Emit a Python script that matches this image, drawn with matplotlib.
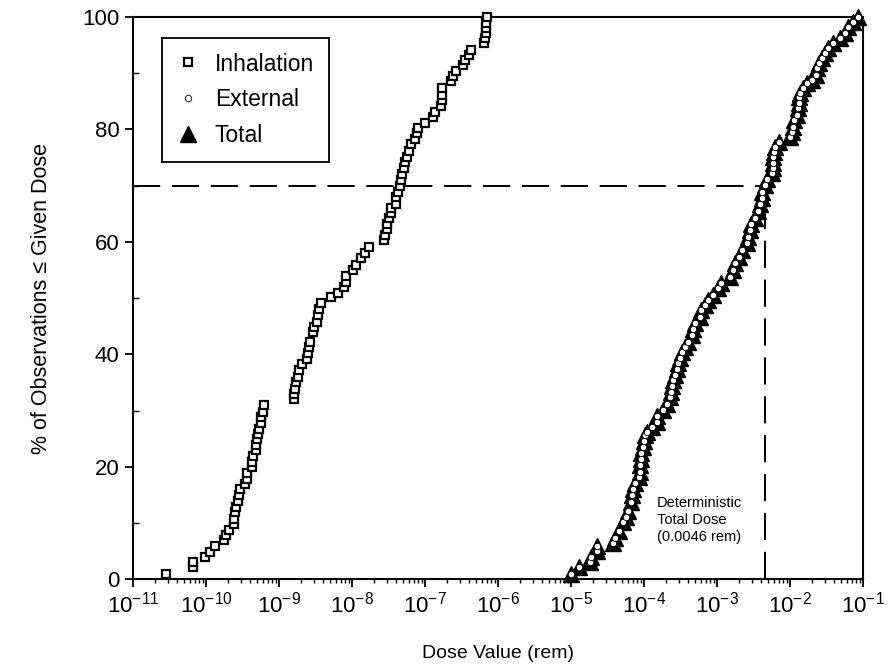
import matplotlib
matplotlib.use("Agg")
import matplotlib.pyplot as plt
import numpy as np
from matplotlib.ticker import LogLocator, FixedLocator, NullFormatter

plt.rcParams['font.family'] = ['Liberation Sans', 'DejaVu Sans']
plt.rcParams['mathtext.default'] = 'regular'
plt.rcParams['axes.unicode_minus'] = False

# dose values, as log10(rem), with cumulative %
inhal_log10 = [-10.55, -10.18, -10.18, -10.01, -9.95, -9.88, -9.75, -9.72, -9.68, -9.62,
               -9.61, -9.60, -9.59, -9.56, -9.55, -9.53, -9.47, -9.44, -9.44, -9.37,
               -9.37, -9.36, -9.32, -9.32, -9.30, -9.28, -9.27, -9.25, -9.24, -9.22,
               -9.21, -8.80, -8.80, -8.78, -8.76, -8.74, -8.72, -8.68, -8.61, -8.60,
               -8.59, -8.58, -8.54, -8.52, -8.48, -8.46, -8.45, -8.43, -8.28, -8.19,
               -8.11, -8.08, -8.08, -7.99, -7.94, -7.88, -7.82, -7.76, -7.56, -7.55,
               -7.52, -7.52, -7.49, -7.47, -7.46, -7.39, -7.39, -7.37, -7.34, -7.33,
               -7.31, -7.29, -7.27, -7.25, -7.22, -7.19, -7.14, -7.11, -7.09, -7.00,
               -6.89, -6.86, -6.78, -6.77, -6.77, -6.76, -6.65, -6.62, -6.57, -6.48,
               -6.45, -6.39, -6.37, -6.19, -6.18, -6.17, -6.16, -6.16, -6.15]
inhal_pct = [0.9, 2.1, 3.1, 3.9, 4.9, 6.0, 6.9, 7.8, 8.8, 9.9,
             10.8, 11.9, 12.9, 13.9, 14.9, 16.0, 16.9, 17.9, 18.9, 20.0,
             20.9, 21.9, 23.0, 23.8, 24.9, 25.8, 26.8, 27.8, 28.9, 29.8,
             31.0, 32.0, 33.0, 33.9, 35.1, 36.0, 37.2, 38.3, 39.1, 40.2,
             41.3, 42.2, 43.9, 44.9, 45.8, 47.0, 48.0, 49.1, 50.2, 50.9,
             52.0, 52.9, 53.9, 55.0, 55.9, 57.1, 58.0, 59.0, 60.3, 61.2,
             62.2, 63.2, 64.2, 65.1, 66.0, 66.8, 68.0, 68.9, 69.9, 71.0,
             72.1, 73.1, 74.1, 75.1, 76.2, 77.4, 78.2, 79.3, 80.2, 81.2,
             82.2, 83.1, 84.2, 85.2, 86.1, 87.3, 88.5, 89.5, 90.3, 91.5,
             92.3, 93.2, 94.1, 95.3, 96.2, 97.1, 98.0, 98.9, 100.0]

ext_log10 = [-5.00, -4.89, -4.74, -4.73, -4.64, -4.64, -4.42, -4.40, -4.34, -4.29,
             -4.25, -4.22, -4.18, -4.16, -4.15, -4.12, -4.07, -4.05, -4.05, -4.04,
             -4.04, -4.01, -4.00, -3.99, -3.96, -3.89, -3.82, -3.82, -3.74, -3.68,
             -3.64, -3.63, -3.62, -3.60, -3.58, -3.55, -3.53, -3.51, -3.48, -3.44,
             -3.40, -3.34, -3.33, -3.30, -3.23, -3.22, -3.16, -3.12, -3.05, -2.99,
             -2.94, -2.82, -2.78, -2.75, -2.70, -2.66, -2.59, -2.58, -2.55, -2.53,
             -2.48, -2.44, -2.41, -2.38, -2.38, -2.34, -2.32, -2.25, -2.23, -2.23,
             -2.23, -2.22, -2.21, -2.15, -2.00, -1.97, -1.96, -1.95, -1.90, -1.89,
             -1.88, -1.88, -1.86, -1.82, -1.77, -1.70, -1.64, -1.63, -1.60, -1.56,
             -1.52, -1.48, -1.41, -1.32, -1.25, -1.21, -1.14, -1.07]
ext_pct = [0.9, 2.1, 3.0, 3.9, 5.0, 6.0, 6.4, 7.3, 8.5, 10.1,
           11.0, 12.1, 13.7, 14.9, 16.0, 17.1, 18.1, 19.0, 20.3, 21.4,
           22.4, 23.5, 24.6, 25.6, 26.2, 27.0, 27.9, 29.0, 30.1, 31.1,
           32.4, 33.3, 34.3, 35.4, 36.3, 37.4, 38.4, 39.3, 40.4, 41.3,
           42.2, 43.4, 44.5, 45.6, 46.6, 47.9, 48.8, 49.6, 50.5, 51.8,
           52.7, 53.7, 55.0, 56.2, 57.3, 58.5, 59.8, 60.9, 62.1, 63.2,
           64.2, 65.5, 66.7, 67.8, 68.9, 70.1, 71.2, 72.2, 73.1, 74.0,
           75.1, 76.0, 76.9, 77.8, 78.6, 79.5, 80.4, 81.7, 82.6, 83.8,
           84.7, 85.8, 86.5, 87.4, 88.3, 88.8, 89.7, 90.9, 91.8, 92.7,
           93.6, 94.5, 95.4, 96.3, 97.2, 98.2, 99.1, 100.0]

# total is inhalation + external, the inhalation part is negligible
total_log10 = ext_log10
total_pct = ext_pct

det_dose = 0.0046
det_pct = 70

fig, ax = plt.subplots(figsize=(8.92, 6.72), dpi=100)
fig.subplots_adjust(left=0.149, right=0.9675, bottom=0.138, top=0.975)

ax.plot(10.0 ** np.array(total_log10), total_pct, ls="None", marker="^",
        markersize=12, color="black", label="Total", zorder=3, clip_on=False)
ax.plot(10.0 ** np.array(ext_log10), ext_pct, ls="None", marker="o",
        markersize=4.6, markerfacecolor="white", markeredgecolor="black",
        markeredgewidth=0.6, label="External", zorder=4, clip_on=False)
ax.plot(10.0 ** np.array(inhal_log10), inhal_pct, ls="None", marker="s",
        markersize=5.5, markerfacecolor="white", markeredgecolor="black",
        markeredgewidth=1.6, label="Inhalation", zorder=4, clip_on=False)

# deterministic reference lines
ax.plot([1e-11, det_dose], [det_pct, det_pct], ls=(0, (14, 6)), color="black", lw=1.4)
ax.plot([det_dose, det_dose], [0, det_pct], ls=(0, (14, 6)), color="black", lw=1.4)

ax.text(1.5e-4, 14.8, "Deterministic\nTotal Dose\n(0.0046 rem)", fontsize=10.5,
        ha="left", va="top", linespacing=1.25)

ax.set_xscale("log")
ax.set_xlim(1e-11, 1e-1)
ax.set_ylim(0, 100)
ax.set_xticks([10.0 ** k for k in range(-11, 0)])
ax.set_xticklabels(["$10^{%d}$" % k for k in range(-11, 0)])
ax.xaxis.set_minor_locator(LogLocator(base=10, subs=np.arange(2, 10), numticks=20))
ax.xaxis.set_minor_formatter(NullFormatter())
ax.set_yticks([0, 20, 40, 60, 80, 100])
ax.yaxis.set_minor_locator(FixedLocator([10, 30, 50, 70, 90]))

ax.tick_params(axis="both", which="major", direction="out", length=6, width=1.3,
               labelsize=16)
ax.tick_params(axis="x", which="minor", direction="out", length=3, width=1)
ax.tick_params(axis="y", which="minor", direction="in", length=4, width=1)
ax.tick_params(axis="x", which="major", pad=3)
for s in ax.spines.values():
    s.set_linewidth(1.5)

ax.set_xlabel("Dose Value (rem)", fontsize=14, labelpad=20)
ax.set_ylabel("% of Observations \u2264 Given Dose", fontsize=15.5, labelpad=22)

handles, labels = ax.get_legend_handles_labels()
order = [2, 1, 0]
leg = ax.legend([handles[i] for i in order], [labels[i] for i in order],
                loc="upper left", bbox_to_anchor=(0.04, 0.963), borderaxespad=0,
                fontsize=16.5, fancybox=False, edgecolor="black", framealpha=1,
                handlelength=1.0, handletextpad=0.65, labelspacing=0.55,
                borderpad=0.65)
leg.get_frame().set_linewidth(1.3)

fig.savefig("out.png", dpi=100)
